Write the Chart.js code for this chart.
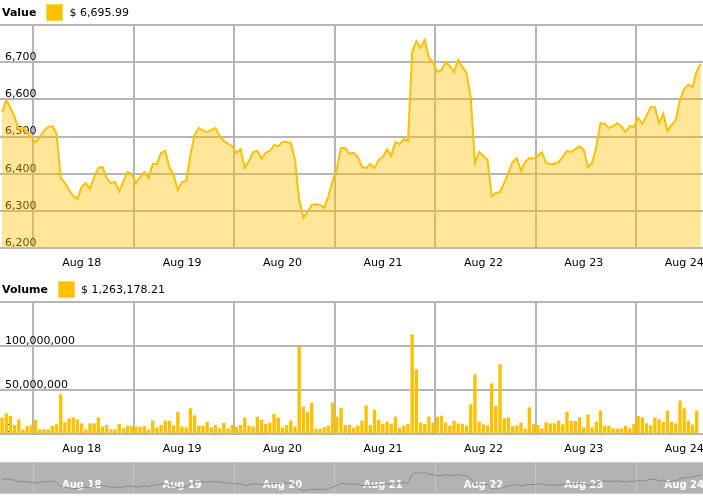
<!DOCTYPE html>
<html>
<head>
<meta charset="utf-8">
<script src="https://cdn.jsdelivr.net/npm/chart.js@4.4.1/dist/chart.umd.min.js"></script>
<style>
  body { margin: 0; background: #fff; font-family: "DejaVu Sans", Verdana, sans-serif; }
  #wrap { position: relative; width: 703px; height: 500px; overflow: hidden; }
  canvas { position: absolute; left: 0; }
  .legend { position: absolute; left: 2px; height: 17px; font-size: 11px; color: #000; display: flex; align-items: center; }
  .legend b { margin-right: 10px; }
  .legend i { display: inline-block; width: 15px; height: 15px; background: #ffc000; border: 1px solid #ffd54f; margin-right: 6px; }
  #nav { position: absolute; left: 0; top: 462px; width: 703px; height: 30px; background: #b3b3b3;
         border-top: 1px solid #cacaca; border-bottom: 1px solid #cacaca; }
  #nav canvas { top: 0; }
</style>
</head>
<body>
<div id="wrap">
  <canvas id="valueChart" width="703" height="280" style="top:0"></canvas>
  <canvas id="volumeChart" width="703" height="184" style="top:278px"></canvas>
  <div id="nav"><canvas id="navChart" width="703" height="30"></canvas></div>
  <div class="legend" style="top:4px"><b>Value</b><i></i><span>$ 6,695.99</span></div>
  <div class="legend" style="top:281px"><b>Volume</b><i></i><span>$ 1,263,178.21</span></div>
</div>
<script>
// hourly samples, Aug 17 16:00 -> Aug 24 15:00
const dayLabels = ['Aug 18', 'Aug 19', 'Aug 20', 'Aug 21', 'Aug 22', 'Aug 23', 'Aug 24'];

const price = [
  6566, 6598, 6577, 6552, 6518, 6526, 6512, 6499, 6485, 6499,
  6515, 6526, 6528, 6509, 6388, 6375, 6356, 6340, 6332, 6364,
  6375, 6359, 6391, 6415, 6418, 6388, 6375, 6378, 6353, 6380,
  6404, 6399, 6375, 6391, 6404, 6388, 6426, 6426, 6456, 6461,
  6415, 6396, 6356, 6378, 6380, 6450, 6504, 6523, 6515, 6512,
  6518, 6523, 6501, 6488, 6480, 6474, 6456, 6466, 6415, 6434,
  6458, 6461, 6440, 6456, 6461, 6477, 6474, 6485, 6485, 6483,
  6437, 6329, 6281, 6297, 6316, 6318, 6316, 6308, 6340, 6380,
  6413, 6469, 6469, 6453, 6456, 6445, 6418, 6415, 6426, 6415,
  6437, 6445, 6466, 6448, 6485, 6480, 6493, 6488, 6727, 6757,
  6738, 6760, 6711, 6700, 6674, 6679, 6700, 6690, 6674, 6706,
  6687, 6671, 6604, 6429, 6458, 6448, 6437, 6340, 6348, 6351,
  6375, 6402, 6431, 6442, 6407, 6431, 6442, 6440, 6448, 6458,
  6429, 6426, 6426, 6431, 6445, 6461, 6458, 6466, 6474, 6464,
  6418, 6429, 6472, 6536, 6534, 6523, 6528, 6536, 6528, 6512,
  6528, 6526, 6550, 6534, 6555, 6579, 6579, 6536, 6561, 6515,
  6531, 6544, 6598, 6628, 6639, 6633, 6676, 6695.99
];

// volume in millions of dollars
const volumeM = [
  18.6, 23.5, 20.5, 10.2, 16.7, 5.3, 9.1, 9.8, 15.9, 5.3,
  5.3, 5.3, 9.1, 11, 45, 13.3, 17.8, 18.9, 16.7, 12.1,
  5.3, 12.1, 12.1, 18.9, 8.3, 10.2, 5.3, 5.3, 11.4, 6.4,
  9.1, 9.1, 8.3, 8.3, 9.1, 5.3, 15.2, 7.6, 10.2, 15.2,
  15.2, 9.8, 25.4, 8.3, 7.6, 29.2, 21.2, 9.1, 9.1, 14,
  7.6, 10.2, 6.4, 12.9, 6.4, 10.2, 8.3, 10.2, 18.6, 9.5,
  8.3, 19.7, 15.9, 11.4, 12.9, 22.7, 18.6, 7.2, 10.2, 15.2,
  8.3, 99.2, 31, 25.4, 35.6, 6, 6, 7.6, 9.5, 35.6,
  19.7, 29.9, 10.2, 10.2, 7.2, 9.5, 15.2, 32.2, 10.2, 27.3,
  15.9, 11.4, 14, 11.4, 19.7, 7.2, 9.5, 11.4, 113.3, 73.5,
  12.9, 11.4, 19.7, 12.9, 19.7, 20.8, 12.9, 9.5, 15.2, 12.1,
  11.4, 9.5, 33.7, 67.8, 14, 11, 9.8, 57.6, 31.8, 79.2,
  17.8, 18.9, 9.1, 9.8, 12.9, 6, 30.3, 11, 10.2, 6.4,
  13.3, 12.1, 12.1, 15.2, 11, 25.4, 14.8, 14.8, 18.9, 7.6,
  22.3, 7.6, 14, 26.5, 9.1, 9.1, 6.4, 6.4, 6.4, 9.1,
  6.4, 11, 20.5, 18.9, 12.1, 9.8, 18.9, 16.7, 13.6, 26.5,
  13.6, 12.1, 37.9, 29.2, 15.2, 10.6, 26.5, 1.263178
];

Chart.defaults.font.family = '"DejaVu Sans", Verdana, sans-serif';
Chart.defaults.font.size = 11;
Chart.defaults.color = '#000';
Chart.defaults.animation = false;
Chart.defaults.plugins.legend.display = false;
Chart.defaults.plugins.tooltip.enabled = false;

const yellow = '#ffc000';
const gridColor = 'rgb(182, 182, 182)';

// each sample sits in the middle of its hour slot
const toPoints = arr => arr.map((v, i) => ({ x: i + 0.5, y: v }));

// day labels at noon, grid lines (offset) at midnight
function timeAxis(height, pad, color, font, lineColor, lineWidth, inside) {
  return {
    type: 'linear', min: 0, max: 168, offset: false,
    afterBuildTicks: s => { s.ticks = dayLabels.map((d, k) => ({ value: 20 + 24 * k })); },
    afterFit: s => { s.height = height; s.paddingLeft = 0; s.paddingRight = 0; },
    grid: { offset: true, color: lineColor, lineWidth: lineWidth, drawTicks: false },
    border: { display: false },
    ticks: { padding: pad, mirror: !!inside, labelOffset: -2, color: color, font: font, maxRotation: 0, autoSkip: false,
             callback: (v, k) => dayLabels[k] }
  };
}

function valueAxis(min, max, step) {
  return {
    min: min, max: max,
    afterFit: s => { s.width = 0; },
    grid: { color: gridColor, lineWidth: 2, drawTicks: false },
    border: { display: false },
    ticks: { stepSize: step, mirror: true, padding: 5, labelOffset: -5, color: '#000',
             callback: v => v === max ? '' : v.toLocaleString('en-US') }
  };
}

new Chart(document.getElementById('valueChart'), {
  type: 'line',
  data: {
    datasets: [{
      label: 'Value',
      data: toPoints(price),
      borderColor: yellow,
      backgroundColor: 'rgba(255, 192, 0, 0.4)',
      borderWidth: 2,
      pointRadius: 0,
      tension: 0,
      fill: 'start'
    }]
  },
  options: {
    responsive: false,
    layout: { padding: { top: 25 } },
    scales: {
      x: timeAxis(32, 9, '#000', { size: 11 }, gridColor, 2),
      y: valueAxis(6200, 6800, 100)
    }
  }
});

new Chart(document.getElementById('volumeChart'), {
  type: 'bar',
  data: {
    datasets: [{
      label: 'Volume',
      data: toPoints(volumeM.map(v => v * 1e6)),
      backgroundColor: yellow,
      borderWidth: 0,
      barPercentage: 0.8,
      categoryPercentage: 1
    }]
  },
  options: {
    responsive: false,
    layout: { padding: { top: 24 } },
    scales: {
      x: timeAxis(28, 9, '#000', { size: 11 }, gridColor, 2),
      y: valueAxis(0, 150000000, 50000000)
    }
  }
});

new Chart(document.getElementById('navChart'), {
  type: 'line',
  data: {
    datasets: [{
      data: toPoints(price),
      borderColor: '#8a8a8a',
      borderWidth: 1,
      pointRadius: 0,
      tension: 0,
      fill: false
    }]
  },
  options: {
    responsive: false,
    scales: {
      x: timeAxis(0, 2, '#fff', { size: 10, weight: 'bold' }, '#c4c4c4', 1, true),
      y: { display: false, min: 6220, max: 7010 }
    }
  }
});
</script>
</body>
</html>
